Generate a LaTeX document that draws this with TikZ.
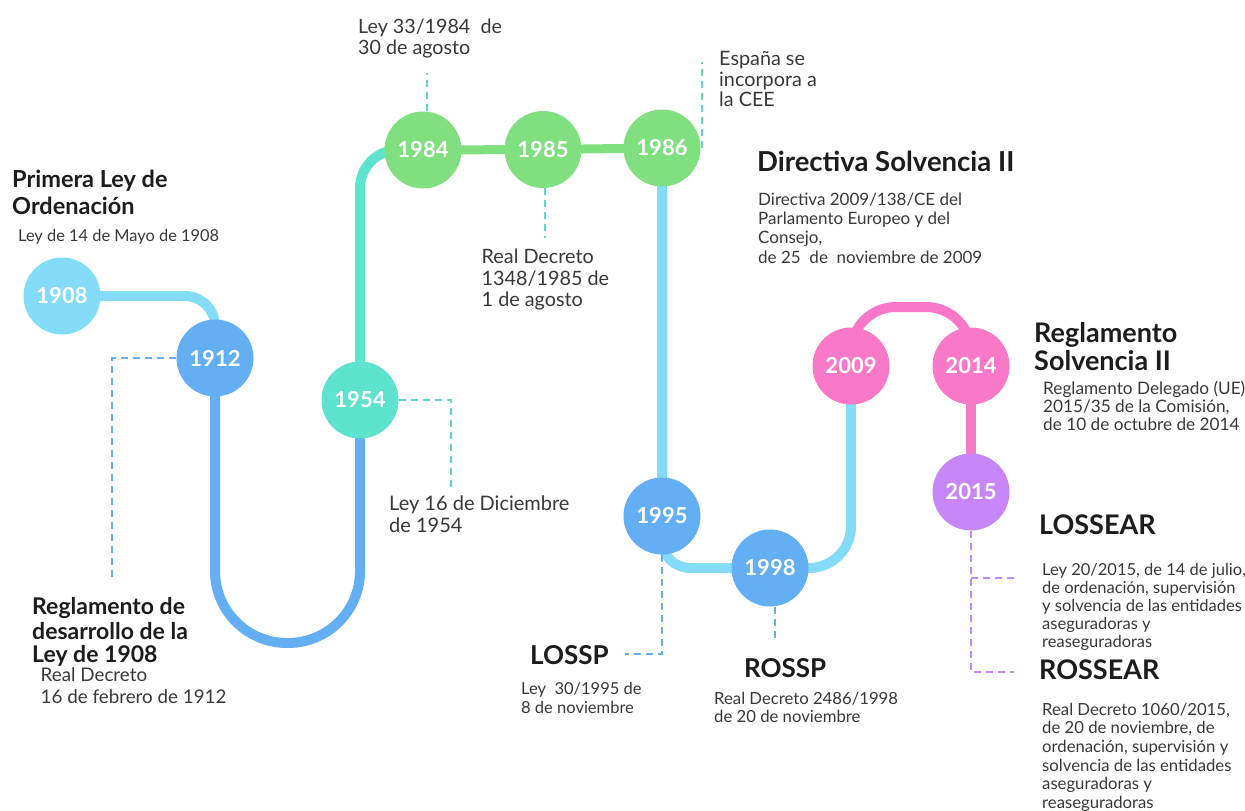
\documentclass[tikz,border=0pt]{standalone}
\usepackage{fontspec}
\setmainfont{Lato}
\usetikzlibrary{backgrounds}

% palette of the timeline
\definecolor{skyline}{HTML}{84DCF9}
\definecolor{midblue}{HTML}{64AFF4}
\definecolor{tealline}{HTML}{5EE3CF}
\definecolor{teal dash}{HTML}{5DD6D2}
\definecolor{greenline}{HTML}{80E080}
\definecolor{pinkline}{HTML}{FA78C8}
\definecolor{purpleline}{HTML}{C887F9}
\definecolor{titlegray}{HTML}{1C1C1C}
\definecolor{notegray}{HTML}{383838}

\newcommand{\fsz}[2]{\fontsize{#1}{#2}\selectfont}

\begin{document}
\begin{tikzpicture}[x=1pt,y=-1pt,
  yearnode/.style={circle, minimum size=77pt, inner sep=0pt, fill=#1,
    text=white, font=\fsz{22}{22}\bfseries},
  trackline/.style={line width=10pt, draw=#1},
  dashline/.style={line width=2.6pt, draw=#1, dash pattern=on 7pt off 5pt},
  headtext/.style={anchor=north west, inner sep=0pt, align=left, text=titlegray},
  notetext/.style={anchor=north west, inner sep=0pt, align=left, text=notegray},
]
\useasboundingbox (0,0) rectangle (1245,811);

% ---- year circles ----
\node[yearnode=skyline]  (c1908) at (62,296)  {1908};
\node[yearnode=midblue]  (c1912) at (215,358) {1912};
\node[yearnode=tealline] (c1954) at (360,400) {1954};
\node[yearnode=greenline] (c1984) at (423,150) {1984};
\node[yearnode=greenline] (c1985) at (543,149.5) {1985};
\node[yearnode=greenline] (c1986) at (662,148) {1986};
\node[yearnode=midblue]  (c1995) at (662,516) {1995};
\node[yearnode=midblue]  (c1998) at (770,568) {1998};
\node[yearnode=pinkline] (c2009) at (851,366) {2009};
\node[yearnode=pinkline] (c2014) at (971,366) {2014};
\node[yearnode=purpleline] (c2015) at (971,492) {2015};

% ---- helper points for the track and the leader lines ----
\coordinate (ubot) at (360,643);
\coordinate (arch) at (971,307);
\coordinate (e1912) at (112,581);
\coordinate (e1954) at (451,487);
\coordinate (e1984) at (427,73);
\coordinate (e1985) at (545,238);
\coordinate (e1986) at (702,62);
\coordinate (e1995) at (625,654);
\coordinate (e1998) at (775,641);
\coordinate (e2015a) at (1018,578);
\coordinate (e2015b) at (1014,672);

% ---- texts ----
\node[headtext, font=\fsz{23.5}{27}\bfseries] (tPrimera) at (12,168)
  {\strut Primera Ley de\\Ordenación};
\node[notetext, font=\fsz{16.4}{19}] (dPrimera) at (18,228)
  {\strut Ley de 14 de Mayo de 1908};
\node[headtext, font=\fsz{23}{23.5}\bfseries] (tReg1908) at (32,597)
  {\strut Reglamento de\\desarrollo de la\\Ley de 1908};
\node[notetext, font=\fsz{18.8}{21.5}] (dReg1908) at (40.5,666.5)
  {\strut Real Decreto\\16 de febrero de 1912};
\node[notetext, font=\fsz{19.7}{19.4}] (d1984) at (358,18.7)
  {\strut Ley 33/1984~ de\\30 de agosto};
\node[notetext, font=\fsz{19.8}{20.5}] (d1985) at (481.5,249)
  {\strut Real Decreto\\1348/1985 de\\1 de agosto};
\node[notetext, font=\fsz{19.8}{19.5}] (d1986) at (719,51.3)
  {\strut España se\\incorpora a\\la CEE};
\node[notetext, font=\fsz{20}{20}] (d1954) at (389,496)
  {\strut Ley 16 de Diciembre\\de 1954};
\node[headtext, font=\fsz{27.5}{30}\bfseries] (tDir) at (757,150.7)
  {\strut Directiva Solvencia II};
\node[notetext, font=\fsz{17}{19.4}] (dDir) at (758,191.4)
  {\strut Directiva 2009/138/CE del\\Parlamento Europeo y del\\Consejo,\\de 25~ de~ noviembre de 2009};
\node[headtext, font=\fsz{27}{26}\bfseries] (tRegS) at (1034,321.8)
  {\strut Reglamento\\Solvencia II};
\node[notetext, font=\fsz{17.2}{18.3}] (dRegS) at (1043,380.5)
  {\strut Reglamento Delegado (UE)\\2015/35 de la Comisión,\\de 10 de octubre de 2014};
\node[headtext, font=\fsz{26}{30}\bfseries] (tLOSSP) at (530,643.3)
  {\strut LOSSP};
\node[notetext, font=\fsz{16.5}{19}] (dLOSSP) at (521,680.7)
  {\strut Ley~ 30/1995 de\\8 de noviembre};
\node[headtext, font=\fsz{26}{30}\bfseries] (tROSSP) at (744,656)
  {\strut ROSSP};
\node[notetext, font=\fsz{16.7}{18.5}] (dROSSP) at (714,691)
  {\strut Real Decreto 2486/1998\\de 20 de noviembre};
\node[headtext, font=\fsz{27}{30}\bfseries] (tLOSSEAR) at (1039,513)
  {\strut LOSSEAR};
\node[notetext, font=\fsz{16.5}{18}] (dLOSSEAR) at (1042,562.4)
  {\strut Ley 20/2015, de 14 de julio,\\de ordenación, supervisión\\y solvencia de las entidades\\aseguradoras y\\reaseguradoras};
\node[headtext, font=\fsz{27}{30}\bfseries] (tROSSEAR) at (1039,658)
  {\strut ROSSEAR};
\node[notetext, font=\fsz{16.7}{18.6}] (dROSSEAR) at (1042,702)
  {\strut Real Decreto 1060/2015,\\de 20 de noviembre, de\\ordenación, supervisión y\\solvencia de las entidades\\aseguradoras y\\reaseguradoras};

% ---- track and leader lines behind the circles ----
\begin{scope}[on background layer]
  \draw[trackline=skyline, rounded corners=30pt] (c1908.center) -| (c1912.center);
  \draw[trackline=midblue, rounded corners=72pt]
    (c1912.center) |- (ubot) -- (c1954.center);
  \draw[trackline=tealline, rounded corners=38pt] (c1954.center) |- (c1984.center);
  \draw[line width=9pt, draw=greenline] (c1984.center) -- (c1985.center) -- (c1986.center);
  \draw[trackline=skyline] (c1986.center) -- (c1995.center);
  \draw[trackline=skyline, rounded corners=28pt] (c1995.center) |- (c1998.center);
  \draw[trackline=skyline, rounded corners=42pt] (c1998.center) -| (c2009.center);
  \draw[trackline=pinkline, rounded corners=45pt]
    (c2009.center) |- (arch) -- (c2014.center);
  \draw[trackline=pinkline] (c2014.center) -- (c2015.center);

  \draw[dashline=midblue] (c1912.west) -| (e1912);
  \draw[dashline=teal dash] (c1954.east) -| (e1954);
  \draw[dashline=teal dash] (e1984 |- c1984.north) -- (e1984);
  \draw[dashline=teal dash] (e1985 |- c1985.south) -- (e1985);
  \draw[dashline=teal dash] (e1986 |- c1986.east) -- (e1986);
  \draw[dashline=midblue] (c1995.south) |- (e1995);
  \draw[dashline=midblue] (e1998 |- c1998.south) -- (e1998);
  \draw[dashline=purpleline] (c2015.south) |- (e2015b);
  \draw[dashline=purpleline] (c2015.south |- e2015a) -- (e2015a);
\end{scope}
\end{tikzpicture}
\end{document}
